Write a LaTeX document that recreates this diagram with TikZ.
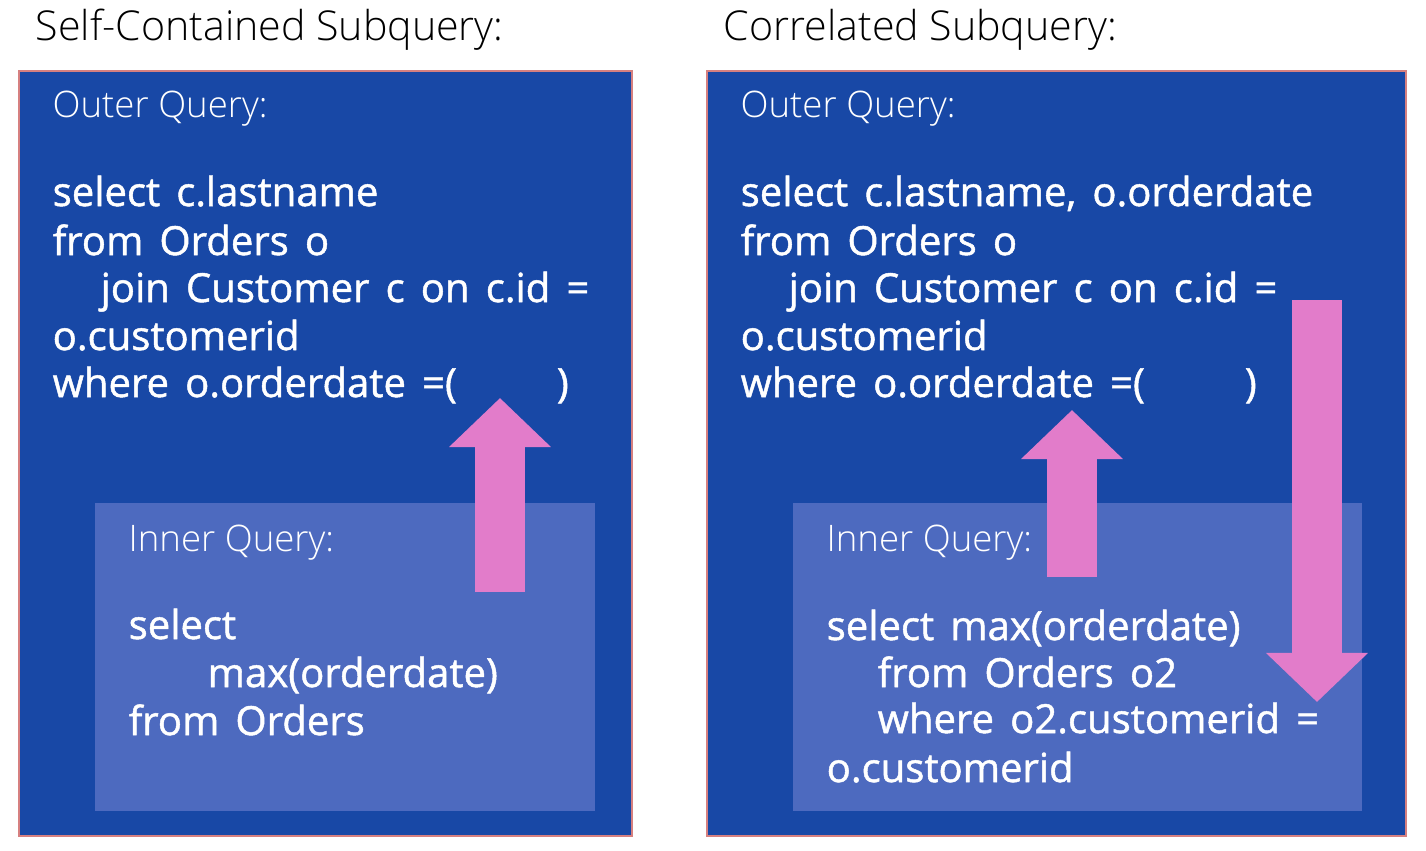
\documentclass[tikz,border=0pt]{standalone}
\usepackage{fontspec}
\setmainfont{Open Sans}
\newfontfamily\lightfont{Open Sans Light}
\newfontfamily\codefont{Open Sans}[FakeBold=1.2, WordSpace=1.55]
\usetikzlibrary{arrows.meta}

\definecolor{outerblue}{RGB}{24,72,166}
\definecolor{innerblue}{RGB}{77,106,191}
\definecolor{arrowpink}{RGB}{226,124,202}
\definecolor{boxedge}{RGB}{214,128,128}

\begin{document}
\begin{tikzpicture}[x=0.01cm, y=-0.01cm,
    heading/.style={anchor=base west, inner sep=0pt, font=\lightfont\fontsize{11.7}{14}\selectfont},
    qlabel/.style={anchor=base west, inner sep=0pt, text=white, font=\lightfont\fontsize{10.4}{12.5}\selectfont},
    codeline/.style={anchor=base west, inner sep=0pt, text=white, font=\codefont\fontsize{11.4}{13.5}\selectfont},
    outerbox/.style={fill=outerblue, draw=boxedge, line width=0.6pt},
    innerbox/.style={fill=innerblue},
    bigarrow/.style={draw=arrowpink, line width=0.5cm, -{Triangle[length=0.49cm, width=0.99cm]}}]
    \useasboundingbox (0,0) rectangle (1426,850);

    % Self-contained subquery
    \node[heading] (titleL) at (35,40) {Self-Contained Subquery:};
    \draw[outerbox] (19,71) rectangle (632,836);
    \fill[innerbox] (95,503) rectangle (595,811);
    \node[qlabel] (outerL) at (52,117) {Outer Query:};
    \node[codeline] (oL1) at (52,206) {select c.lastname};
    \node[codeline] (oL2) at (52,255) {from Orders o};
    \node[codeline] (oL3) at (100,302) {join Customer c on c.id =};
    \node[codeline] (oL4) at (52,350) {o.customerid};
    \node[codeline] (oL5) at (52,397) {where o.orderdate =(\hspace{1cm})};
    \node[qlabel] (innerL) at (128,551) {Inner Query:};
    \node[codeline] (iL1) at (128,639) {select};
    \node[codeline] (iL2) at (207,687) {max(orderdate)};
    \node[codeline] (iL3) at (128,735) {from Orders};

    % Correlated subquery
    \node[heading] (titleR) at (723,40) {Correlated Subquery:};
    \draw[outerbox] (707,71) rectangle (1406,836);
    \fill[innerbox] (793,503) rectangle (1362,811);
    \node[qlabel] (outerR) at (740,117) {Outer Query:};
    \node[codeline] (oR1) at (740,206) {select c.lastname, o.orderdate};
    \node[codeline] (oR2) at (740,255) {from Orders o};
    \node[codeline] (oR3) at (788,302) {join Customer c on c.id =};
    \node[codeline] (oR4) at (740,350) {o.customerid};
    \node[codeline] (oR5) at (740,397) {where o.orderdate =(\hspace{1cm})};
    \node[qlabel] (innerR) at (826,551) {Inner Query:};
    \node[codeline] (iR1) at (826,640) {select max(orderdate)};
    \node[codeline] (iR2) at (877,687) {from Orders o2};
    \node[codeline] (iR3) at (877,733) {where o2.customerid =};
    \node[codeline] (iR4) at (826,782) {o.customerid};

    % Arrows
    \coordinate (upLfrom) at (500,592);
    \coordinate (upLto) at (500,398);
    \coordinate (upRfrom) at (1072,577);
    \coordinate (upRto) at (1072,410);
    \coordinate (downRfrom) at (1317,300);
    \coordinate (downRto) at (1317,702);
    \draw[bigarrow] (upLfrom) -- (upLto);
    \draw[bigarrow] (upRfrom) -- (upRto);
    \draw[bigarrow] (downRfrom) -- (downRto);
\end{tikzpicture}
\end{document}
